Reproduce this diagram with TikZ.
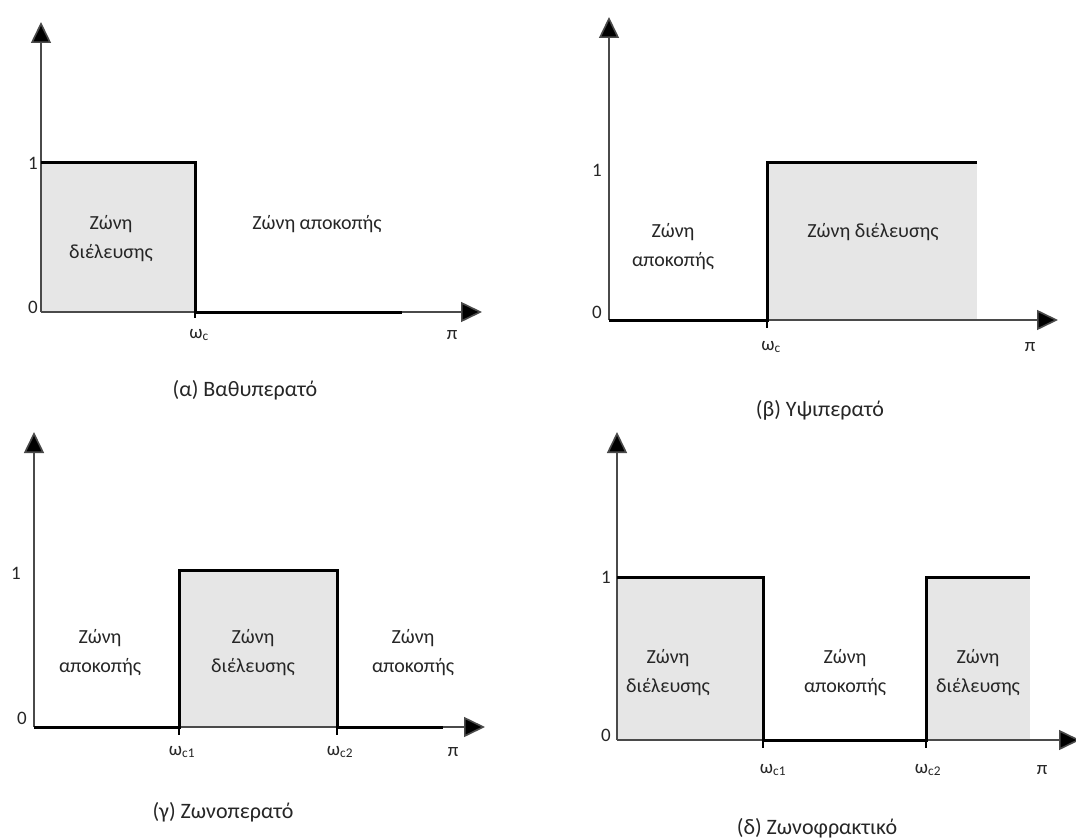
\documentclass[tikz,border=0pt]{standalone}
\usepackage{fontspec}
\setmainfont{Carlito}
\usetikzlibrary{arrows.meta}
\definecolor{passgray}{HTML}{E6E6E6}
\definecolor{axisgray}{HTML}{4A4A4A}
\definecolor{txtgray}{HTML}{262626}
\begin{document}
\begin{tikzpicture}[x=1pt,y=-1pt,
  axisline/.style={line width=1.6pt, draw=axisgray, -{Triangle[length=21pt,width=20pt,fill=black]}},
  resp/.style={line width=3pt, draw=black, line join=miter},
  tickmark/.style={line width=1.6pt, draw=black},
  pass/.style={fill=passgray},
  lbl/.style={text=txtgray, align=center, font=\fontsize{20}{29}\selectfont, inner sep=0pt},
  num/.style={text=txtgray, font=\fontsize{19}{22}\selectfont, inner sep=0pt},
  captxt/.style={text=txtgray, font=\fontsize{22}{26}\selectfont, inner sep=0pt}]
\useasboundingbox (0,0) rectangle (1076,840);
\fill[white] (0,0) rectangle (1076,840);

% ---------- (a) low-pass ----------
\coordinate (aO) at (41,312);
\coordinate (aY) at (41,22);
\coordinate (aX) at (482,312);
\fill[pass] (41,162) rectangle (195,312);
\draw[axisline] (aO) -- (aY);
\draw[axisline] (aO) -- (aX);
\draw[tickmark] (195,312) -- (195,318);
\draw[resp] (41,162) -- (195,162) -- (195,312) -- (402,312);
\node[num] (a1) at (33,163) {1};
\node[num] (a0) at (33,307) {0};
\node[num] (awc) at (199,335) {ω\textsubscript{c}};
\node[num] (api) at (452,335) {π};
\node[lbl] (apass) at (111,239) {Ζώνη\\διέλευσης};
\node[lbl] (astop) at (317,224) {Ζώνη αποκοπής};
\node[captxt] (acap) at (245,390) {(α) Βαθυπερατό};

% ---------- (b) high-pass ----------
\coordinate (bO) at (609,320);
\coordinate (bY) at (609,17);
\coordinate (bX) at (1058,320);
\fill[pass] (767,162) rectangle (977,320);
\draw[axisline] (bO) -- (bY);
\draw[axisline] (bO) -- (bX);
\draw[tickmark] (767,320) -- (767,328);
\draw[resp] (609,320) -- (767,320) -- (767,162) -- (977,162);
\node[num] (b1) at (597,170) {1};
\node[num] (b0) at (597,312) {0};
\node[num] (bwc) at (771,347) {ω\textsubscript{c}};
\node[num] (bpi) at (1030,347) {π};
\node[lbl] (bstop) at (673,247) {Ζώνη\\αποκοπής};
\node[lbl] (bpass) at (873,232) {Ζώνη διέλευσης};
\node[captxt] (bcap) at (820,410) {(β) Υψιπερατό};

% ---------- (c) band-pass ----------
\coordinate (cO) at (34,727);
\coordinate (cY) at (34,432);
\coordinate (cX) at (485,727);
\fill[pass] (179,570) rectangle (337,727);
\draw[axisline] (cO) -- (cY);
\draw[axisline] (cO) -- (cX);
\draw[tickmark] (179,727) -- (179,735);
\draw[tickmark] (337,727) -- (337,735);
\draw[resp] (34,727) -- (179,727) -- (179,570) -- (337,570) -- (337,727) -- (443,727);
\node[num] (c1) at (16,573) {1};
\node[num] (c0) at (22,718) {0};
\node[num] (cw1) at (182,752) {ω\textsubscript{c1}};
\node[num] (cw2) at (340,752) {ω\textsubscript{c2}};
\node[num] (cpi) at (453,752) {π};
\node[lbl] (cstopl) at (100,653) {Ζώνη\\αποκοπής};
\node[lbl] (cpass) at (253,653) {Ζώνη\\διέλευσης};
\node[lbl] (cstopr) at (413,653) {Ζώνη\\αποκοπής};
\node[captxt] (ccap) at (223,812) {(γ) Ζωνοπερατό};

% ---------- (d) band-stop ----------
\coordinate (dO) at (617,740);
\coordinate (dY) at (617,432);
\coordinate (dX) at (1080,740);
\fill[pass] (617,577) rectangle (763,740);
\fill[pass] (926,577) rectangle (1030,740);
\draw[axisline] (dO) -- (dY);
\draw[axisline] (dO) -- (dX);
\draw[tickmark] (763,740) -- (763,748);
\draw[tickmark] (926,740) -- (926,748);
\draw[resp] (617,577) -- (763,577) -- (763,740) -- (926,740) -- (926,577) -- (1030,577);
\node[num] (d1) at (606,577) {1};
\node[num] (d0) at (606,735) {0};
\node[num] (dw1) at (773,770) {ω\textsubscript{c1}};
\node[num] (dw2) at (928,770) {ω\textsubscript{c2}};
\node[num] (dpi) at (1042,770) {π};
\node[lbl] (dpassl) at (668,673) {Ζώνη\\διέλευσης};
\node[lbl] (dstop) at (845,673) {Ζώνη\\αποκοπής};
\node[lbl] (dpassr) at (978,673) {Ζώνη\\διέλευσης};
\node[captxt] (dcap) at (817,828) {(δ) Ζωνοφρακτικό};
\end{tikzpicture}
\end{document}
